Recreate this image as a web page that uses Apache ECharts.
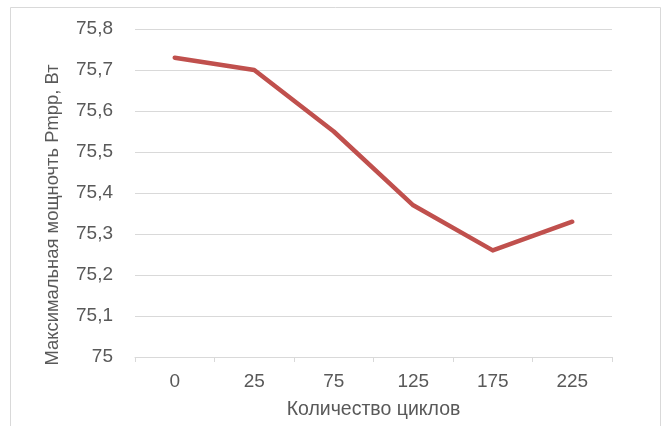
<!DOCTYPE html>
<html>
<head>
<meta charset="utf-8">
<script src="https://cdn.jsdelivr.net/npm/echarts@6/dist/echarts.min.js"></script>
<style>
  html, body { margin: 0; padding: 0; background: #fff; }
  #chart { width: 672px; height: 426px; }
</style>
</head>
<body>
<div id="chart"></div>
<script>
// Number of cycles and measured maximum power
const cycles = ['0', '25', '75', '125', '175', '225'];
const maxPower = [75.73, 75.70, 75.55, 75.37, 75.26, 75.33];

const FONT = '"Liberation Sans", "Noto Sans", sans-serif';
const TEXT = '#595959';

const chart = echarts.init(document.getElementById('chart'));
chart.setOption({
  animation: false,
  backgroundColor: '#fff',
  graphic: [{
    type: 'rect',
    shape: { x: 10.5, y: 7.5, width: 650, height: 430 },
    style: { fill: 'none', stroke: '#d9d9d9', lineWidth: 1 },
    silent: true
  }],
  grid: { left: 135, right: 60, top: 29, bottom: 69 },
  xAxis: {
    type: 'category',
    data: cycles,
    boundaryGap: true,
    name: 'Количество циклов',
    nameLocation: 'middle',
    nameGap: 43,
    nameTextStyle: { color: TEXT, fontSize: 19.5, fontFamily: FONT },
    axisLine: { lineStyle: { color: '#d9d9d9', width: 1 } },
    axisTick: { show: true, length: 5, lineStyle: { color: '#d9d9d9' } },
    axisLabel: { color: TEXT, fontSize: 19, fontFamily: FONT, margin: 15 },
    splitLine: { show: false }
  },
  yAxis: {
    type: 'value',
    min: 75,
    max: 75.8,
    interval: 0.1,
    name: 'Максимальная мощночть Pmpp, Вт',
    nameLocation: 'middle',
    nameGap: 73,
    nameTextStyle: { color: TEXT, fontSize: 18.4, fontFamily: FONT, padding: [0, 44, 0, 0] },
    axisLine: { show: false },
    axisTick: { show: false },
    axisLabel: {
      color: TEXT, fontSize: 19, fontFamily: FONT, margin: 22,
      formatter: v => String(Math.round(v * 10) / 10).replace('.', ',')
    },
    splitLine: { lineStyle: { color: '#d9d9d9', width: 1 } }
  },
  series: [{
    type: 'line',
    data: maxPower,
    symbol: 'none',
    lineStyle: { color: '#C0504D', width: 4.5, cap: 'round', join: 'round' }
  }]
});
</script>
</body>
</html>
